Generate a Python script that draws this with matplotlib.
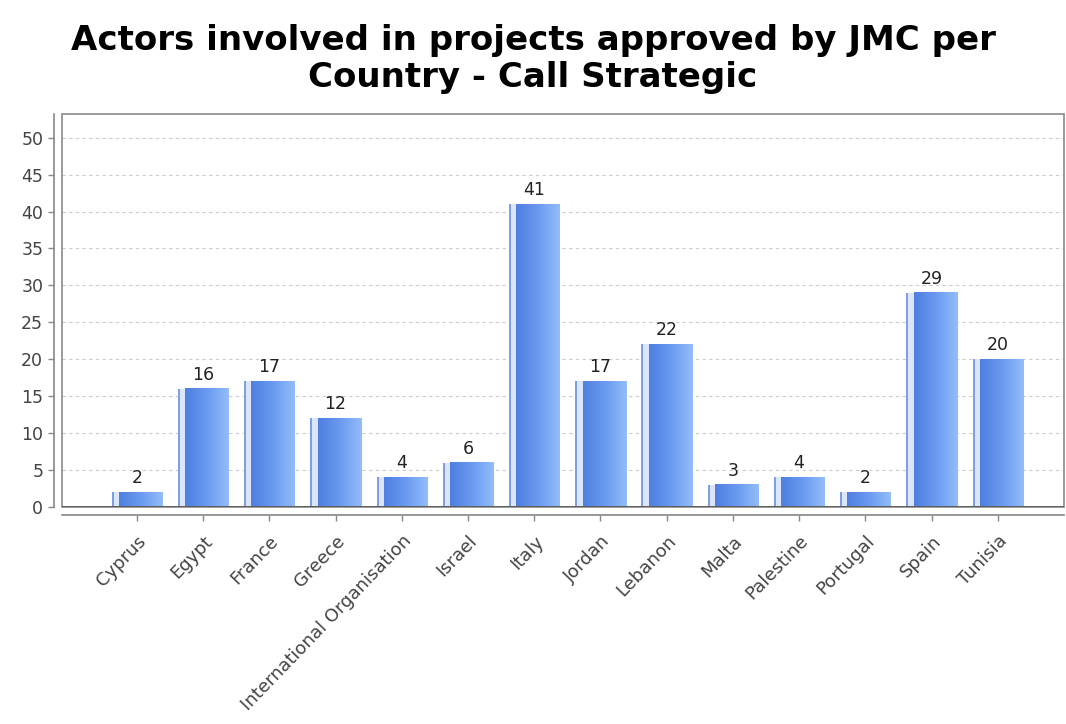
import numpy as np
import matplotlib
matplotlib.use("Agg")
import matplotlib.pyplot as plt
from matplotlib.patches import Rectangle
from matplotlib.colors import LinearSegmentedColormap

countries = ["Cyprus", "Egypt", "France", "Greece", "International Organisation",
             "Israel", "Italy", "Jordan", "Lebanon", "Malta", "Palestine",
             "Portugal", "Spain", "Tunisia"]
actors = [2, 16, 17, 12, 4, 6, 41, 17, 22, 3, 4, 2, 29, 20]
yticks = list(range(0, 55, 5))

W, H = 1066, 724
fig = plt.figure(figsize=(W / 100, H / 100), dpi=100)
left, right, top, bottom = 62, 1064, 114, 507
ax = fig.add_axes([left / W, 1 - bottom / H, (right - left) / W, (bottom - top) / H])

x = np.arange(len(countries))
bw = 0.76
cmap = LinearSegmentedColormap.from_list("bar", ["#4f7fe0", "#6a9af0", "#92bdfa"])
grad = np.linspace(0, 1, 64).reshape(1, -1)
for xi, v in zip(x, actors):
    x0 = xi - bw / 2
    x1 = xi + bw / 2
    ax.add_patch(Rectangle((x0, 0), 0.03, v, facecolor="#7f9ee8", edgecolor="none", zorder=3))
    ax.add_patch(Rectangle((x0 + 0.03, 0), 0.08, v, facecolor="#dce6fb", edgecolor="none", zorder=3))
    ax.imshow(grad, cmap=cmap, aspect="auto", extent=(x0 + 0.11, x1, 0, v),
              zorder=3, interpolation="bicubic")
    ax.text(xi, v + 0.7, str(v), ha="center", va="bottom", fontsize=12.5, color="#222222", zorder=4)

for s in ["top", "right"]:
    ax.spines[s].set_visible(False)
for s in ["left", "bottom"]:
    ax.spines[s].set_position(("outward", 6))
    ax.spines[s].set_color("#888888")
    ax.spines[s].set_linewidth(1.2)

ax.set_xlim(-1.13, 14.0)
ax.set_ylim(0, 53.2)
ax.set_yticks(yticks)
ax.set_xticks(x)
ax.set_xticklabels(countries)
ax.tick_params(axis="y", labelsize=12.5, labelcolor="#444444", color="#888888", length=4, width=1)
ax.tick_params(axis="x", labelsize=13, labelcolor="#444444", color="#888888", length=4, width=1,
               pad=8, labelrotation=46)
for lab in ax.get_xticklabels():
    lab.set_ha("right")
    lab.set_rotation_mode("anchor")

for yv in yticks[1:]:
    ax.axhline(yv, color="#cccccc", linestyle=(0, (3, 3)), linewidth=0.8, zorder=1)

ax.add_patch(Rectangle((0, 0), 1, 1, transform=ax.transAxes, fill=False,
                       edgecolor="#8a8a8a", linewidth=1.2, zorder=5, clip_on=False))
ax.axhline(0, color="#555555", linewidth=1.2, zorder=5)

fig.text(0.5, 1 - 59 / H, "Actors involved in projects approved by JMC per\nCountry - Call Strategic",
         ha="center", va="center", fontsize=24.5, fontweight="bold", linespacing=1.12)

fig.savefig("out.png", dpi=100)
